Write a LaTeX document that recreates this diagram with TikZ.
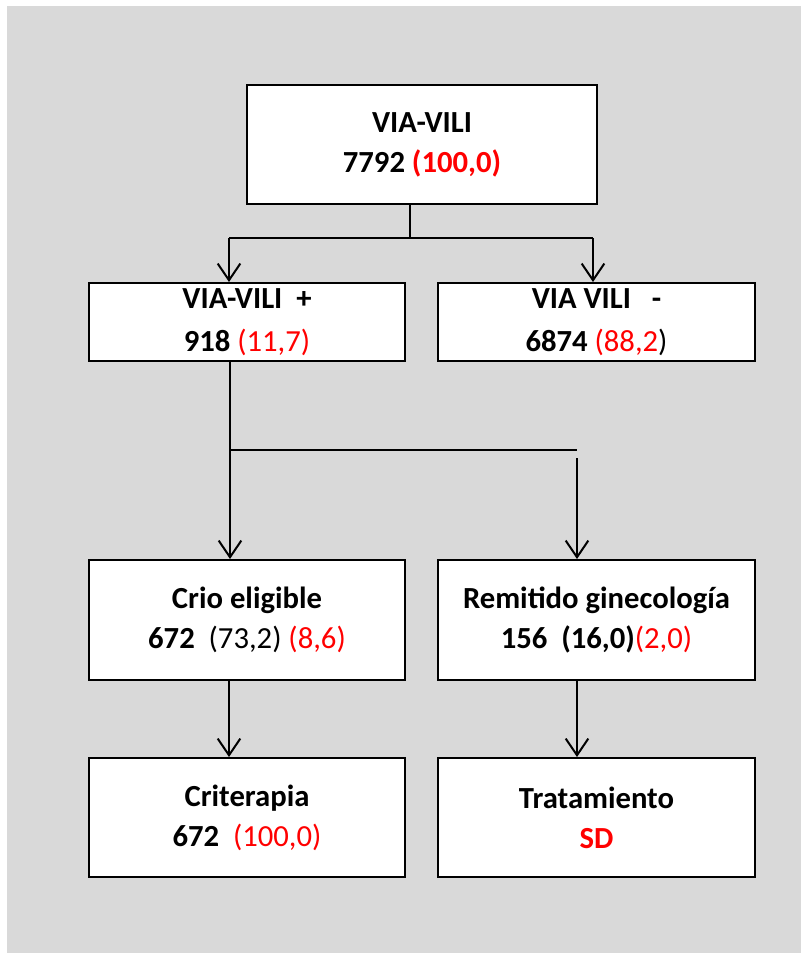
\documentclass[tikz,border=0pt]{standalone}
\usepackage{fontspec}
\setmainfont{Carlito}
\usetikzlibrary{arrows.meta}
\definecolor{bggray}{HTML}{D9D9D9}
\definecolor{myred}{HTML}{FF0000}
\tikzset{
  box/.style={draw=black, line width=1.5pt, fill=white, rectangle, align=center,
    inner sep=0pt, font=\bfseries\fontsize{23}{30}\selectfont},
  conn/.style={draw=black, line width=1.5pt},
  arr/.style={conn, -{Straight Barb[length=12.5pt,width=17pt,line width=1.5pt]}},
}
\newcommand{\rd}[1]{\textcolor{myred}{#1}}
\newcommand{\rn}[1]{\textcolor{myred}{\mdseries #1}}
\begin{document}
\begin{tikzpicture}[x=0.75pt,y=-0.75pt]
\useasboundingbox (0,0) rectangle (801,953);
\fill[bggray] (7,6) rectangle (801,953);

\node[box, minimum width=350*0.75pt, minimum height=119*0.75pt] (top) at (422,144.5)
  {VIA-VILI\\7792 \rd{(100,0)}};

\node[box, minimum width=316*0.75pt, minimum height=78*0.75pt,
  font=\bfseries\fontsize{23}{32}\selectfont] (v1) at (247,322)
  {VIA-VILI\ \ +\\918 \rn{(11,7)}};
\node[box, minimum width=317*0.75pt, minimum height=78*0.75pt,
  font=\bfseries\fontsize{23}{32}\selectfont] (v2) at (596.5,322)
  {VIA VILI\ \ \ -\\6874 {\mdseries\textcolor{myred}{(88,2})}};

\node[box, minimum width=316*0.75pt, minimum height=120*0.75pt] (c1) at (247,620)
  {Crio eligible\\672\ \ {\mdseries(73,2)} \rn{(8,6)}};
\node[box, minimum width=317*0.75pt, minimum height=120*0.75pt] (c2) at (596.5,620)
  {Remitido ginecología\\156\ \ (16,0)\rn{(2,0)}};

\node[box, minimum width=316*0.75pt, minimum height=119*0.75pt] (d1) at (247,817.5)
  {Criterapia\\672\ \ \rn{(100,0)}};
\node[box, minimum width=317*0.75pt, minimum height=119*0.75pt] (d2) at (596.5,817.5)
  {Tratamiento\\\rd{SD}};

% connectors from top
\coordinate (j1) at (410,238);
\coordinate (a1) at (229,238);
\coordinate (a2) at (593,238);
\draw[conn] (top.south -| j1) -- (j1);
\draw[conn] (a1) -- (a2);
\draw[arr] (a1) -- (a1 |- v1.north);
\draw[arr] (a2) -- (a2 |- v2.north);

% connectors from VIA-VILI +
\coordinate (b1) at (230,450);
\coordinate (b2) at (577,450);
\coordinate (b3) at (577,458);
\draw[arr] (v1.south -| b1) -- (b1 |- c1.north);
\draw[conn] (b1) -- (b2);
\draw[arr] (b3) -- (b3 |- c2.north);

% lower connectors
\coordinate (e1) at (229,700);
\coordinate (e2) at (577,700);
\draw[arr] (c1.south -| e1) -- (e1 |- d1.north);
\draw[arr] (c2.south -| e2) -- (e2 |- d2.north);
\end{tikzpicture}
\end{document}
